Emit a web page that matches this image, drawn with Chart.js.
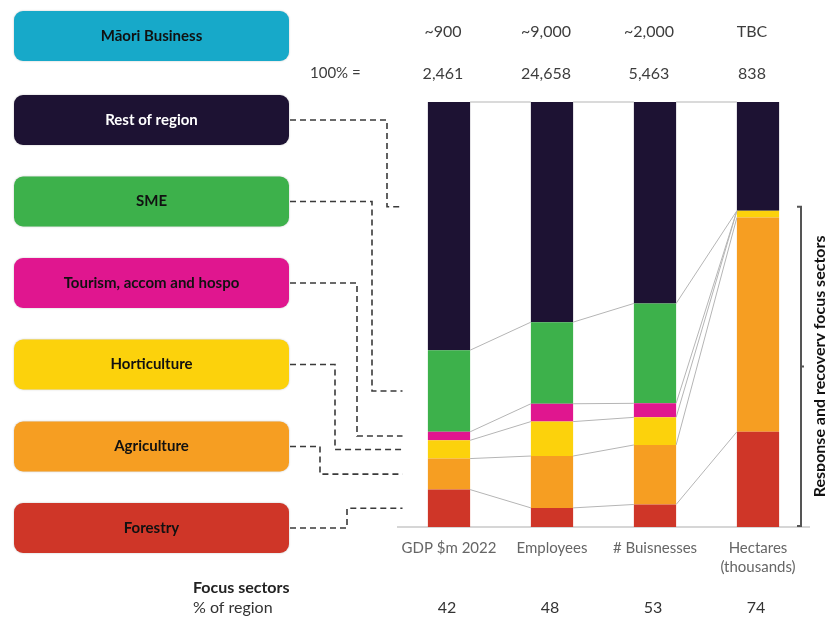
<!DOCTYPE html>
<html>
<head>
<meta charset="utf-8">
<script src="https://cdn.jsdelivr.net/npm/chart.js@4.4.1/dist/chart.umd.min.js"></script>
<style>
  html, body { margin: 0; padding: 0; background: #ffffff; }
  #wrap { width: 825px; height: 617px; position: relative; }
</style>
</head>
<body>
<div id="wrap"><canvas id="c" width="825" height="617"></canvas></div>
<script>
// ---------- DATA (% of each bar) ----------
const categories = ['GDP $m 2022', 'Employees', '# Buisnesses', ['Hectares', '(thousands)']];
const forestry     = [8.8, 4.5, 5.3, 22.4];
const agriculture  = [7.3, 12.2, 14.0, 50.4];
const horticulture = [4.3, 8.1, 6.5, 1.6];
const tourism      = [2.0, 4.2, 3.3, 0];
const sme          = [19.2, 19.2, 23.5, 0];
const restOfRegion = [58.4, 51.8, 47.4, 25.6];
const maoriBusiness = ['~900', '~9,000', '~2,000', 'TBC'];
const totals100     = ['2,461', '24,658', '5,463', '838'];
const focusPct      = [42, 48, 53, 74];
const seriesNames  = ['Forestry', 'Agriculture', 'Horticulture', 'Tourism, accom and hospo', 'SME', 'Rest of region'];
const seriesColors = ['#cf3628', '#f69e22', '#fcd20c', '#e0168f', '#3db14b', '#1d1233'];
const seriesValues = [forestry, agriculture, horticulture, tourism, sme, restOfRegion];

// ---------- chart ----------
const FONT = 'Lato, "Open Sans", sans-serif';

const datasets = seriesValues.map((vals, i) => ({
  label: seriesNames[i],
  data: vals,
  backgroundColor: seriesColors[i],
  borderWidth: 0,
  stack: 's',
  barPercentage: 0.41,
  categoryPercentage: 1.0
}));

function segMid(chart, dsIndex, barIndex) {
  const el = chart.getDatasetMeta(dsIndex).data[barIndex];
  return (el.y + el.base) / 2;
}

const decorPlugin = {
  id: 'decor',
  afterDatasetsDraw(chart) {
    const ctx = chart.ctx;
    const n = categories.length;
    ctx.save();
    ctx.strokeStyle = '#b5b5b5';
    ctx.lineWidth = 1;
    for (let b = 0; b < n - 1; b++) {
      for (let d = 0; d < datasets.length; d++) {
        const a = chart.getDatasetMeta(d).data[b];
        const c = chart.getDatasetMeta(d).data[b + 1];
        ctx.beginPath();
        ctx.moveTo(a.x + a.width / 2, a.y);
        ctx.lineTo(c.x - c.width / 2, c.y);
        ctx.stroke();
      }
    }
    ctx.restore();
  },
  afterDraw(chart) {
    const ctx = chart.ctx;
    const xs = chart.scales.x, ys = chart.scales.y;
    const area = chart.chartArea;
    ctx.save();

    // ---- label boxes ----
    const boxLeft = 14, boxW = 275, boxH = 50;
    const boxCenters = [36, 120, 201.5, 283, 364.5, 446.5, 528];
    const boxLabels = ['Māori Business'].concat(seriesNames.slice().reverse());
    const boxColors = ['#17a9c9'].concat(seriesColors.slice().reverse());
    boxLabels.forEach((lab, i) => {
      const cy = boxCenters[i];
      ctx.save();
      ctx.shadowColor = 'rgba(0,0,0,0.25)';
      ctx.shadowBlur = 2;
      ctx.fillStyle = boxColors[i];
      ctx.beginPath();
      ctx.roundRect(boxLeft, cy - boxH / 2, boxW, boxH, 9);
      ctx.fill();
      ctx.restore();
      ctx.fillStyle = (lab === 'Rest of region') ? '#ffffff' : '#111111';
      ctx.font = 'bold 15px ' + FONT;
      ctx.textAlign = 'center';
      ctx.textBaseline = 'middle';
      ctx.fillText(lab, boxLeft + boxW / 2, cy);
    });

    // ---- dashed leader lines ----
    // order: Rest, SME, Tourism, Horticulture, Agriculture, Forestry
    const elbowX = [387, 372, 357, 335, 320, 347];
    const endX = area.left + 5;
    ctx.strokeStyle = '#3a3a3a';
    ctx.lineWidth = 1.6;
    ctx.setLineDash([6, 4]);
    for (let k = 0; k < 6; k++) {
      const d = 5 - k;
      const y0 = boxCenters[k + 1];
      let y1;
      if (d === 5) {
        y1 = ys.getPixelForValue(100 - restOfRegion[3]) - 4;
      } else {
        y1 = segMid(chart, d, 0);
      }
      ctx.beginPath();
      ctx.moveTo(boxLeft + boxW + 1, y0);
      ctx.lineTo(elbowX[k], y0);
      ctx.lineTo(elbowX[k], y1);
      ctx.lineTo(endX, y1);
      ctx.stroke();
    }
    ctx.setLineDash([]);

    // ---- header rows ----
    ctx.textAlign = 'center';
    ctx.textBaseline = 'middle';
    ctx.font = '16px ' + FONT;
    ctx.fillStyle = '#3d3d3d';
    for (let i = 0; i < categories.length; i++) {
      const cx = xs.getPixelForValue(i) - 6;
      ctx.fillText(maoriBusiness[i], cx, 31.5);
      ctx.fillText(totals100[i], cx, 73.5);
    }
    ctx.font = '15px ' + FONT;
    ctx.textAlign = 'left';
    ctx.fillText('100% =', 310, 73.5);

    // ---- footer ----
    ctx.fillStyle = '#222222';
    ctx.font = 'bold 16px ' + FONT;
    ctx.textAlign = 'left';
    ctx.fillText('Focus sectors', 193, 587.5);
    ctx.font = '16px ' + FONT;
    ctx.fillStyle = '#333333';
    ctx.fillText('% of region', 193, 607.5);
    ctx.textAlign = 'center';
    for (let i = 0; i < categories.length; i++) {
      ctx.fillText(String(focusPct[i]), xs.getPixelForValue(i) - 2, 608);
    }

    // ---- bracket on the right ----
    const bx = 801;
    const bTop = ys.getPixelForValue(100 - restOfRegion[3]) - 4;
    const bBot = area.bottom - 1;
    const bMid = (bTop + bBot) / 2;
    ctx.strokeStyle = '#555555';
    ctx.lineWidth = 2;
    ctx.beginPath();
    ctx.moveTo(bx - 4, bTop); ctx.lineTo(bx, bTop); ctx.lineTo(bx, bBot); ctx.lineTo(bx - 4, bBot);
    ctx.moveTo(bx, bMid); ctx.lineTo(bx + 3, bMid);
    ctx.stroke();

    ctx.save();
    ctx.translate(819.5, bMid);
    ctx.rotate(-Math.PI / 2);
    ctx.fillStyle = '#111111';
    ctx.font = 'bold 16px ' + FONT;
    ctx.textAlign = 'center';
    ctx.textBaseline = 'middle';
    ctx.fillText('Response and recovery focus sectors', 0, 0);
    ctx.restore();

    ctx.restore();
  }
};

new Chart(document.getElementById('c'), {
  type: 'bar',
  data: { labels: categories, datasets: datasets },
  options: {
    responsive: false,
    animation: false,
    devicePixelRatio: 1,
    layout: { padding: { left: 397.5, right: 15.5, top: 102, bottom: 0 } },
    plugins: { legend: { display: false }, tooltip: { enabled: false } },
    scales: {
      x: {
        stacked: true,
        grid: { display: false },
        border: { display: true, color: '#d6d6d6', width: 2 },
        ticks: {
          color: '#666666',
          font: { family: FONT, size: 15, lineHeight: 1.3 },
          padding: 3,
          maxRotation: 0,
          autoSkip: false
        },
        afterFit: (s) => { s.height = 90; }
      },
      y: { stacked: true, min: 0, max: 100, display: false }
    }
  },
  plugins: [decorPlugin]
});
</script>
</body>
</html>
